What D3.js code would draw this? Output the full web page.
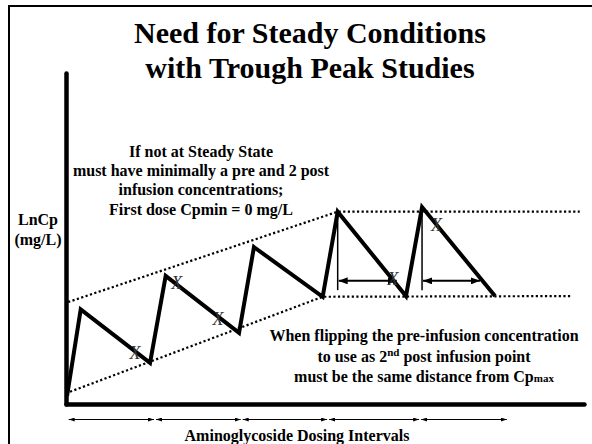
<!DOCTYPE html>
<html>
<head>
<meta charset="utf-8">
<script src="https://cdn.jsdelivr.net/npm/d3@7"></script>
<style>
  body { margin: 0; background: #fff; }
  svg { display: block; }
  text { font-family: "Liberation Serif", "Times New Roman", serif; }
</style>
</head>
<body>
<div id="chart"></div>
<script>
// ---- data (time in hours, LnCp in arbitrary log units)
var curveT    = [0.1, 1.39, 7.95, 9.43, 16.37, 17.78, 24.28, 25.70, 32.16, 33.68, 40.58];
var curveLnCp = [0.24, 2.86, 1.24, 3.87, 2.15, 4.74, 3.24, 5.81, 3.26, 5.95, 3.26];

// dotted envelope lines
var upperT    = [0.2, 25.7, 48.6];
var upperLnCp = [3.08, 5.81, 5.81];
var lowerT    = [0.38, 24.28, 47.7];
var lowerLnCp = [0.37, 3.24, 3.26];

// dosing interval boundaries (under the x axis)
var intervalBounds = [0.16, 8.42, 16.62, 24.79, 33.5, 41.8];

// "X" sample markers
var markerT    = [6.53, 10.48, 14.38, 30.93, 35.04];
var markerLnCp = [1.54, 3.66, 2.57, 3.78, 5.41];

// flip construction: peak verticals and distance arrows
var flipT        = [25.7, 33.68];
var flipTop      = [5.81, 5.95];
var flipBottom   = 3.44;
var flipArrowEnd = [31.28, 39.16];
var flipArrowLevel = 3.72;

var titleLines = ["Need for Steady Conditions", "with Trough Peak Studies"];
var noteLines = ["If not at Steady State",
                 "must have minimally a pre and 2 post",
                 "infusion concentrations;",
                 "First dose Cpmin = 0 mg/L"];
var yLabelLines = ["LnCp", "(mg/L)"];
var xLabel = "Aminoglycoside Dosing Intervals";

var svgWidth = 592, svgHeight = 444;

var svg = d3.select("#chart").append("svg")
    .attr("width", svgWidth)
    .attr("height", svgHeight);

svg.append("rect").attr("width", svgWidth).attr("height", svgHeight).attr("fill", "#fff");

// arrow heads
var defs = svg.append("defs");
function arrowMarker(id, len, wid) {
  defs.append("marker")
      .attr("id", id)
      .attr("markerUnits", "userSpaceOnUse")
      .attr("viewBox", `0 ${-wid / 2} ${len} ${wid}`)
      .attr("refX", len)
      .attr("refY", 0)
      .attr("markerWidth", len)
      .attr("markerHeight", wid)
      .attr("orient", "auto-start-reverse")
    .append("path")
      .attr("d", `M0,${-wid / 2}L${len},0L0,${wid / 2}Z`)
      .attr("fill", "#000");
}
arrowMarker("smallArrow", 6, 4);
arrowMarker("bigArrow", 9, 7);

// frame (left and top edges)
svg.append("path")
    .attr("d", "M9,444V6H592")
    .attr("fill", "none")
    .attr("stroke", "#000")
    .attr("stroke-width", 2);

// scales
var x = d3.scaleLinear().domain([0, 49]).range([66, 584]);
var y = d3.scaleLinear().domain([0, 10]).range([404, 73]);

// axes, plain thick lines with no ticks
var xAxis = d3.axisBottom(x).tickValues([]).tickSizeOuter(0);
var yAxis = d3.axisLeft(y).tickValues([]).tickSizeOuter(0);

svg.append("g")
    .attr("transform", `translate(0, ${y(0)})`)
    .call(xAxis)
  .select(".domain")
    .attr("stroke-width", 4.5)
    .attr("stroke-linecap", "round");

svg.append("g")
    .attr("transform", `translate(${x(0)}, 0)`)
    .call(yAxis)
  .select(".domain")
    .attr("stroke-width", 4.5)
    .attr("stroke-linecap", "round");

var line = d3.line()
    .x(function(d) { return x(d[0]); })
    .y(function(d) { return y(d[1]); });

// dotted envelopes
[[upperT, upperLnCp], [lowerT, lowerLnCp]].forEach(function(pair) {
  svg.append("path")
      .datum(d3.zip(pair[0], pair[1]))
      .attr("d", line)
      .attr("fill", "none")
      .attr("stroke", "#000")
      .attr("stroke-width", 2.2)
      .attr("stroke-dasharray", "2.2,2.4");
});

// concentration sawtooth
svg.append("path")
    .datum(d3.zip(curveT, curveLnCp))
    .attr("d", line)
    .attr("fill", "none")
    .attr("stroke", "#000")
    .attr("stroke-width", 4)
    .attr("stroke-linejoin", "miter");

// peak verticals
svg.selectAll(".flipV")
    .data(flipT)
  .enter().append("line")
    .attr("class", "flipV")
    .attr("x1", function(d) { return x(d); })
    .attr("x2", function(d) { return x(d); })
    .attr("y1", function(d, i) { return y(flipTop[i]); })
    .attr("y2", y(flipBottom))
    .attr("stroke", "#000")
    .attr("stroke-width", 1.5);

// distance arrows
svg.selectAll(".flipA")
    .data(flipT)
  .enter().append("line")
    .attr("class", "flipA")
    .attr("x1", function(d) { return x(d) + 1; })
    .attr("x2", function(d, i) { return x(flipArrowEnd[i]); })
    .attr("y1", y(flipArrowLevel))
    .attr("y2", y(flipArrowLevel))
    .attr("stroke", "#000")
    .attr("stroke-width", 2)
    .attr("marker-start", "url(#bigArrow)")
    .attr("marker-end", "url(#bigArrow)");

// X markers
svg.selectAll(".xmark")
    .data(markerT)
  .enter().append("text")
    .attr("class", "xmark")
    .attr("x", function(d) { return x(d); })
    .attr("y", function(d, i) { return y(markerLnCp[i]) + 6; })
    .attr("text-anchor", "middle")
    .style("font-size", "18px")
    .style("font-style", "italic")
    .attr("fill", "#333")
    .text("X");

// dosing interval arrows below the axis
var intervals = d3.pairs(intervalBounds);
svg.selectAll(".interval")
    .data(intervals)
  .enter().append("line")
    .attr("class", "interval")
    .attr("x1", function(d) { return x(d[0]) + 1; })
    .attr("x2", function(d) { return x(d[1]) - 1; })
    .attr("y1", 419.5)
    .attr("y2", 419.5)
    .attr("stroke", "#000")
    .attr("stroke-width", 1)
    .attr("marker-start", "url(#smallArrow)")
    .attr("marker-end", "url(#smallArrow)");

// title
svg.append("g").selectAll("text")
    .data(titleLines)
  .enter().append("text")
    .attr("x", 310)
    .attr("y", function(d, i) { return 43 + i * 35; })
    .attr("text-anchor", "middle")
    .style("font-size", "30px")
    .style("font-weight", "bold")
    .text(function(d) { return d; });

// upper note
svg.append("g").selectAll("text")
    .data(noteLines)
  .enter().append("text")
    .attr("x", 201)
    .attr("y", function(d, i) { return 157 + i * 19.2; })
    .attr("text-anchor", "middle")
    .style("font-size", "16px")
    .style("font-weight", "bold")
    .text(function(d) { return d; });

// y label
svg.append("g").selectAll("text")
    .data(yLabelLines)
  .enter().append("text")
    .attr("x", 38)
    .attr("y", function(d, i) { return 225 + i * 20; })
    .attr("text-anchor", "middle")
    .style("font-size", "16px")
    .style("font-weight", "bold")
    .text(function(d) { return d; });

// lower note with superscript and small "max"
var note2 = svg.append("g")
    .attr("text-anchor", "middle")
    .style("font-size", "16px")
    .style("font-weight", "bold");

note2.append("text").attr("x", 424).attr("y", 341)
    .text("When flipping the pre-infusion concentration");

var l2 = note2.append("text").attr("x", 424).attr("y", 361.5);
l2.append("tspan").text("to use as 2");
l2.append("tspan").attr("dy", -6).style("font-size", "11px").text("nd");
l2.append("tspan").attr("dy", 6).text(" post infusion point");

var l3 = note2.append("text").attr("x", 424).attr("y", 381.5);
l3.append("tspan").text("must be the same distance from Cp");
l3.append("tspan").style("font-size", "11px").text("max");

// x label
svg.append("text")
    .attr("x", 297)
    .attr("y", 441)
    .attr("text-anchor", "middle")
    .style("font-size", "16px")
    .style("font-weight", "bold")
    .text(xLabel);
</script>
</body>
</html>
